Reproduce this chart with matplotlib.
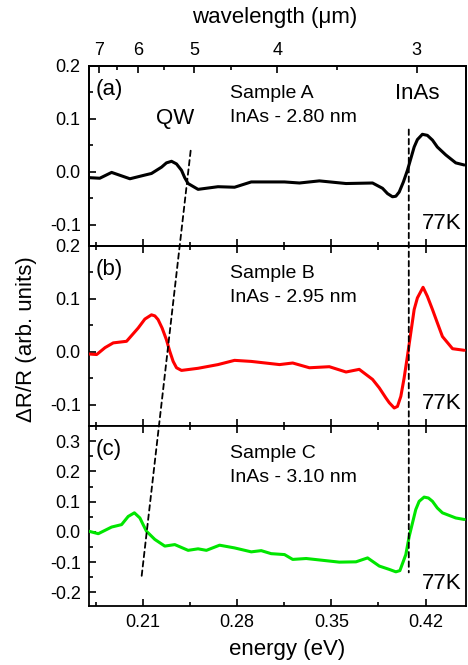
import numpy as np
import matplotlib
matplotlib.use('Agg')
import matplotlib.pyplot as plt
from matplotlib.patches import ConnectionPatch
from matplotlib.ticker import MultipleLocator

plt.rcParams['font.family'] = ['Liberation Sans', 'DejaVu Sans']

# Sample A (InAs 2.80 nm), energy in eV vs dR/R
energy_a = [0.1707, 0.178, 0.1868, 0.2004, 0.2115, 0.2164, 0.2239, 0.2275, 0.2313,
            0.2350, 0.2387, 0.2411, 0.2436, 0.251, 0.2658, 0.2781, 0.2905, 0.3152,
            0.3263, 0.3411, 0.3609, 0.3806, 0.388, 0.3917, 0.3954, 0.3979, 0.4004,
            0.4035, 0.4065, 0.4115, 0.4139, 0.4176, 0.4213, 0.4251, 0.4287, 0.435,
            0.4424, 0.4487]
signal_a = [-0.011, -0.012, -0.001, -0.013, -0.006, -0.003, 0.009, 0.017, 0.020,
            0.015, 0.003, -0.011, -0.022, -0.033, -0.028, -0.029, -0.019, -0.019,
            -0.021, -0.017, -0.022, -0.021, -0.031, -0.041, -0.047, -0.046, -0.038,
            -0.019, 0.003, 0.047, 0.061, 0.071, 0.069, 0.060, 0.047, 0.032,
            0.017, 0.013]

# Sample B (InAs 2.95 nm)
energy_b = [0.170, 0.1757, 0.1819, 0.188, 0.1979, 0.2065, 0.2115, 0.2164, 0.2189,
            0.2213, 0.2243, 0.2275, 0.2300, 0.2325, 0.235, 0.2387, 0.251, 0.2658,
            0.2781, 0.2905, 0.3115, 0.3213, 0.3337, 0.3485, 0.3609, 0.3707, 0.3806,
            0.3856, 0.3905, 0.393, 0.3967, 0.3991, 0.4016, 0.4040, 0.4065, 0.4115,
            0.4139, 0.4181, 0.4213, 0.4251, 0.4287, 0.4325, 0.44, 0.4487]
signal_b = [-0.004, -0.005, 0.008, 0.017, 0.020, 0.045, 0.062, 0.070, 0.068,
            0.061, 0.045, 0.023, 0.001, -0.018, -0.030, -0.035, -0.031, -0.024,
            -0.016, -0.018, -0.024, -0.021, -0.030, -0.028, -0.038, -0.033, -0.052,
            -0.068, -0.087, -0.096, -0.106, -0.103, -0.084, -0.050, -0.008, 0.080,
            0.102, 0.122, 0.105, 0.080, 0.055, 0.029, 0.006, 0.003]

# Sample C (InAs 3.10 nm)
energy_c = [0.170, 0.1769, 0.1868, 0.1942, 0.1991, 0.2037, 0.2078, 0.2102, 0.2127,
            0.2189, 0.2263, 0.2337, 0.2436, 0.251, 0.2572, 0.267, 0.2781, 0.2905,
            0.2979, 0.3053, 0.3152, 0.3213, 0.3313, 0.3436, 0.3559, 0.3683, 0.3769,
            0.3856, 0.393, 0.3979, 0.4009, 0.4053, 0.4078, 0.4127, 0.4152, 0.4189,
            0.4221, 0.4251, 0.4287, 0.4325, 0.4424, 0.4487]
signal_c = [0.002, -0.006, 0.016, 0.024, 0.051, 0.063, 0.046, 0.024, 0.002,
            -0.025, -0.047, -0.042, -0.061, -0.056, -0.061, -0.044, -0.053, -0.066,
            -0.062, -0.072, -0.075, -0.091, -0.088, -0.094, -0.100, -0.099, -0.086,
            -0.113, -0.124, -0.132, -0.128, -0.075, -0.015, 0.074, 0.101, 0.115,
            0.112, 0.101, 0.079, 0.063, 0.046, 0.041]

samples = ['Sample A', 'Sample B', 'Sample C']
thickness = ['InAs - 2.80 nm', 'InAs - 2.95 nm', 'InAs - 3.10 nm']
panel_tags = ['(a)', '(b)', '(c)']
colors = ['black', '#ff0000', '#00e600']
ylims = [(-0.14, 0.2), (-0.14, 0.2), (-0.245, 0.35)]
yticks = [[-0.1, 0.0, 0.1, 0.2], [-0.1, 0.0, 0.1, 0.2],
          [-0.2, -0.1, 0.0, 0.1, 0.2, 0.3]]

wl_major = [7, 6, 5, 4, 3]
wl_minor = [6.5, 5.5, 4.5, 3.5]
hc = 1.2398  # eV*um

# guide line ends: (energy, value) in panel a / panel c
qw_top = (0.2455, 0.04)
qw_bottom = (0.209, -0.15)
inas_top = (0.4075, 0.08)
inas_bottom = (0.4075, -0.134)

fig = plt.figure(figsize=(4.68, 6.65), dpi=100)
left, width = 89 / 468, 377 / 468
h = 180 / 665
bottom0 = 1 - 606 / 665

axes = []
for i in range(3):
    ax = fig.add_axes([left, bottom0 + (2 - i) * h, width, h])
    axes.append(ax)

xs = [energy_a, energy_b, energy_c]
ys = [signal_a, signal_b, signal_c]

for i, ax in enumerate(axes):
    ax.plot(xs[i], ys[i], color=colors[i], lw=2.2, solid_joinstyle='round',
            solid_capstyle='round', zorder=3)
    ax.set_xlim(0.17, 0.45)
    ax.set_ylim(*ylims[i])
    ax.set_yticks(yticks[i])
    ax.set_yticklabels([f'{v:.1f}' for v in yticks[i]])
    ax.yaxis.set_minor_locator(MultipleLocator(0.05))
    ax.set_xticks([0.21, 0.28, 0.35, 0.42])
    ax.xaxis.set_minor_locator(MultipleLocator(0.035))
    for s in ax.spines.values():
        s.set_linewidth(1.3)
    ax.tick_params(which='both', direction='in', top=(i > 0), right=False,
                   width=1.2, labelsize=13, pad=6)
    ax.tick_params(which='major', length=5)
    ax.tick_params(which='minor', length=3)
    if i < 2:
        ax.tick_params(axis='x', labelbottom=False)

    ax.text(0.018, 0.87, panel_tags[i], transform=ax.transAxes, fontsize=16,
            ha='left', va='center')
    ax.text(0.373, 0.847, samples[i], transform=ax.transAxes, fontsize=14,
            ha='left', va='center')
    ax.text(0.373, 0.712, thickness[i], transform=ax.transAxes, fontsize=14,
            ha='left', va='center')
    ax.text(0.989, 0.124, '77K', transform=ax.transAxes, fontsize=16,
            ha='right', va='center')

axes[0].text(0.178, 0.709, 'QW', transform=axes[0].transAxes, fontsize=16,
             ha='left', va='center')
axes[0].text(0.811, 0.847, 'InAs', transform=axes[0].transAxes, fontsize=16,
             ha='left', va='center')

# wavelength axis on top
top = axes[0].twiny()
top.set_xlim(axes[0].get_xlim())
top.set_xticks([hc / w for w in wl_major])
top.set_xticklabels([str(w) for w in wl_major])
top.set_xticks([hc / w for w in wl_minor], minor=True)
top.tick_params(which='both', direction='in', width=1.2, labelsize=13, pad=5)
top.tick_params(which='major', length=5)
top.tick_params(which='minor', length=3)
for s in top.spines.values():
    s.set_linewidth(1.3)

# dashed guide lines across the panels
for a, b in [(qw_top, qw_bottom), (inas_top, inas_bottom)]:
    con = ConnectionPatch(xyA=a, coordsA=axes[0].transData,
                          xyB=b, coordsB=axes[2].transData,
                          color='black', lw=1.3, linestyle=(0, (3, 2.2)), zorder=5)
    fig.add_artist(con)

fig.text(286.7 / 468, 1 - 650 / 665, 'energy (eV)', fontsize=16, ha='center', va='center')
fig.text(275 / 468, 1 - 18 / 665, 'wavelength (\u03bcm)', fontsize=16, ha='center', va='center')
fig.text(27 / 468, 1 - 339 / 665, '\u0394R/R (arb. units)', fontsize=16,
         ha='center', va='center', rotation=90)

fig.savefig('out.png', dpi=100)
